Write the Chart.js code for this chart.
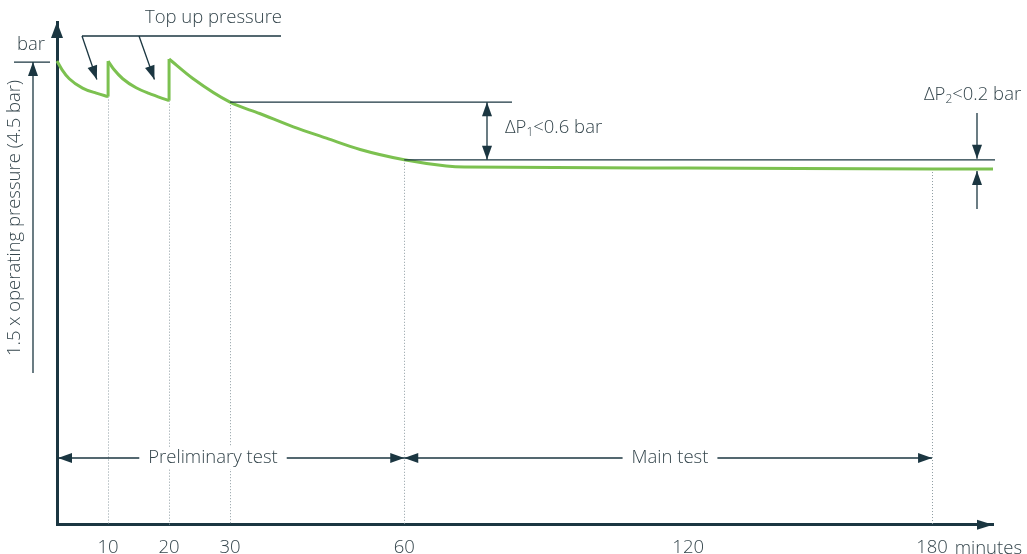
<!DOCTYPE html>
<html lang="en">
<head>
    <meta charset="UTF-8">
    <title>Pressure test sequence</title>
    <script src="https://cdn.jsdelivr.net/npm/chart.js"></script>
    <style>
        body {
            margin: 0;
            padding: 0;
            background-color: #fff;
        }

        .chart-container {
            position: relative;
            width: 1027px;
            height: 554px;
        }
    </style>
</head>
<body>
    <div class="chart-container">
        <canvas id="pressureChart"></canvas>
    </div>

    <script>
        // Values: time in minutes, pressure in bar
        const firstFillMinutes = [0, 1, 2.4, 5, 7.7, 10];
        const firstFillBar = [4.51, 4.425, 4.338, 4.247, 4.198, 4.165];
        const secondFillMinutes = [10, 11, 12.4, 14.6, 16.7, 20];
        const secondFillBar = [4.51, 4.425, 4.338, 4.25, 4.195, 4.125];
        const mainMinutes = [20, 23.9, 30, 35.1, 40.9, 46.6, 52.4, 60, 68.9, 72.7, 120, 180, 195];
        const mainBar = [4.53, 4.34, 4.11, 4.00, 3.87, 3.76, 3.65, 3.55, 3.49, 3.48, 3.47, 3.46, 3.46];

        // dotted drop lines: where they leave the curve
        const markMinutes = [10, 20, 30, 60, 180];
        const markBar = [4.165, 4.125, 4.11, 3.55, 3.46];

        const tickMinutes = [10, 20, 30, 60, 120, 180];
        const testBar = 4.5;      // 1.5 x operating pressure
        const dp1Bar = [4.11, 3.55];
        const dp2Bar = [3.55, 3.46];

        // The time axis of the sketch is not to scale (the main test is drawn shorter)
        const axisMinutes = [0, 10, 20, 30, 60, 120, 180];
        const axisDrawn = [0, 8.8, 19.3, 29.8, 59.8, 108.7, 150.7];

        function warp(m) {
            let i = 1;
            while (i < axisMinutes.length - 1 && m > axisMinutes[i]) i++;
            const k = (axisDrawn[i] - axisDrawn[i - 1]) / (axisMinutes[i] - axisMinutes[i - 1]);
            return axisDrawn[i - 1] + (m - axisMinutes[i - 1]) * k;
        }

        function unwarp(u) {
            let i = 1;
            while (i < axisDrawn.length - 1 && u > axisDrawn[i]) i++;
            const k = (axisMinutes[i] - axisMinutes[i - 1]) / (axisDrawn[i] - axisDrawn[i - 1]);
            return axisMinutes[i - 1] + (u - axisDrawn[i - 1]) * k;
        }

        const LinearScale = Chart.LinearScale || Chart.registry.getScale('linear');

        // linear scale in minutes, drawn with the sketch's uneven spacing
        class SketchTimeScale extends LinearScale {
            getPixelForValue(value) {
                const span = warp(this.max) - warp(this.min);
                return this.getPixelForDecimal((warp(value) - warp(this.min)) / span);
            }
            getValueForPixel(pixel) {
                const span = warp(this.max) - warp(this.min);
                return unwarp(warp(this.min) + this.getDecimalForPixel(pixel) * span);
            }
        }
        SketchTimeScale.id = 'sketchTime';
        SketchTimeScale.defaults = LinearScale.defaults;
        Chart.register(SketchTimeScale);

        const ink = '#1b3641';
        const textInk = '#34454c';
        const green = '#7cc150';
        const fontFamily = '"Open Sans", Lato, sans-serif';
        const font = size => '300 ' + size + 'px ' + fontFamily;

        const points = (xs, ys) => xs.map((m, i) => ({ x: m, y: ys[i] }));

        function curve(data, smooth) {
            return {
                data: data,
                borderColor: green,
                borderWidth: 3,
                pointRadius: 0,
                fill: false,
                clip: false,
                cubicInterpolationMode: smooth ? 'monotone' : 'default',
                tension: smooth ? 0.4 : 0
            };
        }

        // Arrow head with its tip at (tx, ty), pointing away from (fx, fy)
        function arrowHead(ctx, tx, ty, fx, fy, len, half) {
            const a = Math.atan2(ty - fy, tx - fx);
            ctx.beginPath();
            ctx.moveTo(tx, ty);
            ctx.lineTo(tx - len * Math.cos(a) + half * Math.sin(a), ty - len * Math.sin(a) - half * Math.cos(a));
            ctx.lineTo(tx - len * Math.cos(a) - half * Math.sin(a), ty - len * Math.sin(a) + half * Math.cos(a));
            ctx.closePath();
            ctx.fill();
        }

        function line(ctx, x1, y1, x2, y2) {
            ctx.beginPath();
            ctx.moveTo(x1, y1);
            ctx.lineTo(x2, y2);
            ctx.stroke();
        }

        function arrow(ctx, x1, y1, x2, y2, both) {
            line(ctx, x1, y1, x2, y2);
            arrowHead(ctx, x2, y2, x1, y1, 14, 5);
            if (both) arrowHead(ctx, x1, y1, x2, y2, 14, 5);
        }

        function deltaLabel(ctx, x, y, sub, rest) {
            ctx.textAlign = 'left';
            ctx.textBaseline = 'middle';
            ctx.font = font(18.5);
            ctx.fillText('\u0394P', x, y);
            x += ctx.measureText('\u0394P').width;
            ctx.font = font(12);
            ctx.fillText(sub, x, y + 5);
            x += ctx.measureText(sub).width;
            ctx.font = font(18.5);
            ctx.fillText(rest, x, y);
        }

        function spanLabel(ctx, x1, x2, y, text, cx) {
            arrow(ctx, x1, y, x2, y, true);
            ctx.font = font(18.5);
            const w = ctx.measureText(text).width;
            ctx.fillStyle = '#fff';
            ctx.fillRect(cx - w / 2 - 9, y - 11, w + 18, 22);
            ctx.fillStyle = textInk;
            ctx.textAlign = 'center';
            ctx.textBaseline = 'middle';
            ctx.fillText(text, cx, y);
            ctx.fillStyle = ink;
        }

        const sketchNotes = {
            id: 'sketchNotes',
            beforeDatasetsDraw(chart) {
                const { ctx, scales: { x, y } } = chart;
                ctx.save();
                ctx.strokeStyle = '#8e9ca2';
                ctx.lineWidth = 1;
                ctx.setLineDash([1, 2]);
                markMinutes.forEach((m, i) => {
                    const px = Math.round(x.getPixelForValue(m)) + 0.5;
                    line(ctx, px, y.getPixelForValue(markBar[i]), px, y.getPixelForValue(0));
                });
                ctx.restore();
            },
            afterDraw(chart) {
                const { ctx, scales: { x, y } } = chart;
                const X = m => x.getPixelForValue(m);
                const Y = b => y.getPixelForValue(b);
                ctx.save();
                ctx.fillStyle = ink;
                ctx.strokeStyle = ink;

                // axis arrow heads
                arrowHead(ctx, x.left, y.top, x.left, y.top + 20, 16, 6);
                arrowHead(ctx, x.right, y.bottom, x.right - 20, y.bottom, 16, 5);

                ctx.lineWidth = 1.3;

                // y axis caption
                line(ctx, 14, Y(testBar), 50, Y(testBar));
                arrow(ctx, 33, 373, 33, Y(testBar), false);
                ctx.fillStyle = textInk;
                ctx.font = font(18.5);
                ctx.textAlign = 'center';
                ctx.textBaseline = 'middle';
                ctx.fillText('bar', 31, 45);
                ctx.save();
                ctx.translate(15, 218);
                ctx.rotate(-Math.PI / 2);
                ctx.fillText('1.5 x operating pressure (4.5 bar)', 0, 0);
                ctx.restore();

                // top up callout
                ctx.textAlign = 'left';
                ctx.fillText('Top up pressure', 145, 18);
                ctx.fillStyle = ink;
                line(ctx, 82, 36, 281, 36);
                arrow(ctx, 82, 36, X(7.8), Y(4.33), false);
                arrow(ctx, 139, 36, X(17.6), Y(4.33), false);

                // delta P1
                line(ctx, X(30), Y(dp1Bar[0]), 512, Y(dp1Bar[0]));
                line(ctx, X(60), Y(dp1Bar[1]), x.right + 2, Y(dp1Bar[1]));
                arrow(ctx, 487, Y(dp1Bar[0]), 487, Y(dp1Bar[1]), true);
                ctx.fillStyle = textInk;
                deltaLabel(ctx, 505, 128, '1', '<0.6 bar');

                // delta P2
                ctx.fillStyle = ink;
                arrow(ctx, 977, 113, 977, Y(dp2Bar[0]) - 1, false);
                arrow(ctx, 977, 209, 977, Y(dp2Bar[1]) + 2, false);
                ctx.fillStyle = textInk;
                deltaLabel(ctx, 924, 95, '2', '<0.2 bar');

                // test phases
                ctx.fillStyle = ink;
                spanLabel(ctx, X(0) + 1, X(60), 458, 'Preliminary test', 213);
                spanLabel(ctx, X(60), X(180), 458, 'Main test', 670);

                // unit after the last tick
                ctx.fillStyle = textInk;
                ctx.font = font(18.5);
                ctx.textAlign = 'left';
                ctx.textBaseline = 'middle';
                const w180 = ctx.measureText('180').width;
                ctx.fillText(' minutes', X(180) + w180 / 2 + 2, x.top + 13 + 11);

                ctx.restore();
            }
        };

        const ctx = document.getElementById('pressureChart').getContext('2d');
        const pressureChart = new Chart(ctx, {
            type: 'line',
            data: {
                datasets: [
                    curve(points(firstFillMinutes, firstFillBar), true),
                    curve([{ x: 10, y: firstFillBar[firstFillBar.length - 1] }, { x: 10, y: secondFillBar[0] }], false),
                    curve(points(secondFillMinutes, secondFillBar), true),
                    curve([{ x: 20, y: secondFillBar[secondFillBar.length - 1] }, { x: 20, y: mainBar[0] }], false),
                    curve(points(mainMinutes, mainBar), true)
                ]
            },
            options: {
                responsive: true,
                maintainAspectRatio: false,
                animation: false,
                layout: {
                    padding: { left: 57, right: 34, top: 22, bottom: -17 }
                },
                plugins: {
                    legend: { display: false },
                    tooltip: { enabled: false }
                },
                scales: {
                    x: {
                        type: 'sketchTime',
                        min: 0,
                        max: 195,
                        grid: { display: false, drawTicks: false },
                        border: { color: ink, width: 3 },
                        afterBuildTicks: scale => {
                            scale.ticks = tickMinutes.map(v => ({ value: v }));
                        },
                        ticks: {
                            autoSkip: false,
                            maxRotation: 0,
                            padding: 12,
                            color: textInk,
                            font: { family: fontFamily, size: 18.5, weight: 300 },
                            callback: value => String(value)
                        }
                    },
                    y: {
                        min: 0,
                        max: 4.89,
                        grid: { display: false, drawTicks: false },
                        border: { color: ink, width: 3 },
                        ticks: { display: false }
                    }
                }
            },
            plugins: [sketchNotes]
        });
    </script>
</body>
</html>
